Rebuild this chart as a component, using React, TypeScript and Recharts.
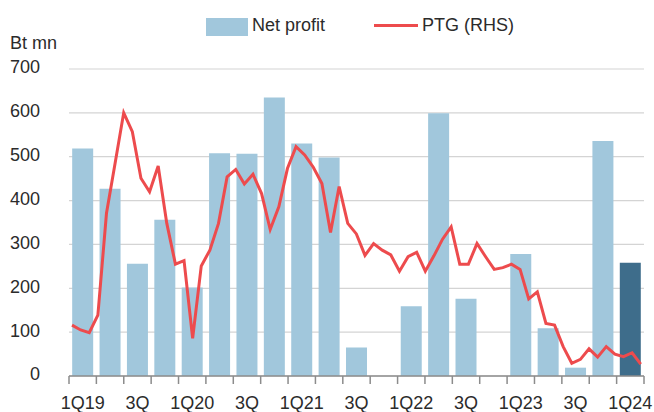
import { ComposedChart, Bar, Line, XAxis, YAxis, CartesianGrid, Cell } from 'recharts';

const quarters = [
  '1Q19', '2Q19', '3Q19', '4Q19', '1Q20', '2Q20', '3Q20', '4Q20', '1Q21', '2Q21', '3Q21',
  '4Q21', '1Q22', '2Q22', '3Q22', '4Q22', '1Q23', '2Q23', '3Q23', '4Q23', '1Q24'
];
const tickLabels = [
  '1Q19', '', '3Q', '', '1Q20', '', '3Q', '', '1Q21', '', '3Q',
  '', '1Q22', '', '3Q', '', '1Q23', '', '3Q', '', '1Q24'
];
// Bt mn
const netProfit = [519, 427, 256, 356, 202, 508, 507, 635, 530, 498, 65, -3, 159, 599, 176, -3, 278, 109, 19, 536, 258];
// PTG share price (RHS), read against the left scale
const ptgPrice = [
  116, 105, 99, 139, 371, 485, 600, 557, 451, 420, 479, 348, 255, 263, 86, 251, 287, 348, 454, 471,
  438, 460, 416, 334, 386, 473, 523, 504, 476, 439, 327, 432, 348, 324, 275, 302, 287, 276, 239, 272,
  282, 239, 274, 312, 340, 255, 255, 302, 272, 243, 247, 255, 243, 176, 192, 120, 116, 67, 29, 38,
  62, 43, 67, 50, 44, 53, 27
];
const yTicks = [0, 100, 200, 300, 400, 500, 600, 700];

const data = quarters.map((q, i) => ({ quarter: q, profit: netProfit[i] }));
const ptgData = ptgPrice.map((v, i) => ({ m: i, ptg: v }));

const FONT = '"Liberation Sans", Arial, sans-serif';
const TEXT = '#2b2b2b';
const AXIS = '#8c8c8c';
const LIGHT = '#a1c7dc';
const DARK = '#3e6d8b';
const RED = '#ed4b4d';

function QuarterTick(props: any) {
  const { x, y, payload } = props;
  const half = typeof payload.offset === 'number' && payload.offset > 0 ? payload.offset : 13.7;
  const i = typeof payload.index === 'number' ? payload.index : quarters.indexOf(payload.value);
  const axisY = y - 20;
  return (
    <g>
      <line x1={x - half} x2={x - half} y1={axisY} y2={axisY + 8} stroke={AXIS} strokeWidth={1.5} />
      {i === quarters.length - 1 && (
        <line x1={x + half} x2={x + half} y1={axisY} y2={axisY + 8} stroke={AXIS} strokeWidth={1.5} />
      )}
      <text x={x} y={y} dy="0.71em" textAnchor="middle" fill={TEXT} fontSize={18} fontFamily={FONT}>
        {tickLabels[i]}
      </text>
    </g>
  );
}

function ValueTick(props: any) {
  const { x, y, payload } = props;
  return (
    <text x={x} y={y - 2} dy="0.355em" textAnchor="end" fill={TEXT} fontSize={18} fontFamily={FONT}>
      {payload.value}
    </text>
  );
}

export default function App() {
  return (
    <div style={{ position: 'relative', width: 646, height: 404, marginLeft: 8, marginTop: 8, fontFamily: FONT, color: TEXT }}>
      <style>{'html, body { margin: 0; overflow: hidden; } .recharts-wrapper, .recharts-surface { overflow: visible !important; }'}</style>
      <div style={{ position: 'absolute', left: 198, top: 10, width: 42, height: 18, background: LIGHT }} />
      <div style={{ position: 'absolute', left: 244, top: 8, fontSize: 18, lineHeight: '18px' }}>Net profit</div>
      <div style={{ position: 'absolute', left: 366, top: 16, width: 44, height: 3, background: RED }} />
      <div style={{ position: 'absolute', left: 414, top: 8, fontSize: 18, lineHeight: '18px' }}>PTG (RHS)</div>
      <div style={{ position: 'absolute', left: 2, top: 26, fontSize: 18, lineHeight: '18px' }}>Bt mn</div>

      <ComposedChart width={646} height={404} data={data} margin={{ top: 61, right: 10, bottom: 6, left: 0 }}
        barCategoryGap="11.6%">
        <CartesianGrid vertical={false} stroke="#d4d4d4" strokeWidth={1.2} />
        <XAxis dataKey="quarter" interval={0} height={30} tickSize={8} tickMargin={12}
          tickLine={false} axisLine={{ stroke: AXIS, strokeWidth: 1.5 }} tick={<QuarterTick />} />
        <XAxis xAxisId="m" type="number" dataKey="m" domain={[-0.35, 66.38]} hide />
        <YAxis domain={[0, 700]} ticks={yTicks} allowDataOverflow width={61} tickSize={0} tickMargin={29}
          axisLine={false} tickLine={false} tick={<ValueTick />} />
        <YAxis yAxisId="r" orientation="right" domain={[0, 700]} hide />
        <Bar dataKey="profit" isAnimationActive={false}>
          {data.map((d, i) => (
            <Cell key={d.quarter} fill={i === data.length - 1 ? DARK : LIGHT} />
          ))}
        </Bar>
        <Line data={ptgData} xAxisId="m" yAxisId="r" dataKey="ptg" type="linear" stroke={RED}
          strokeWidth={3} dot={false} isAnimationActive={false} />
      </ComposedChart>
    </div>
  );
}
